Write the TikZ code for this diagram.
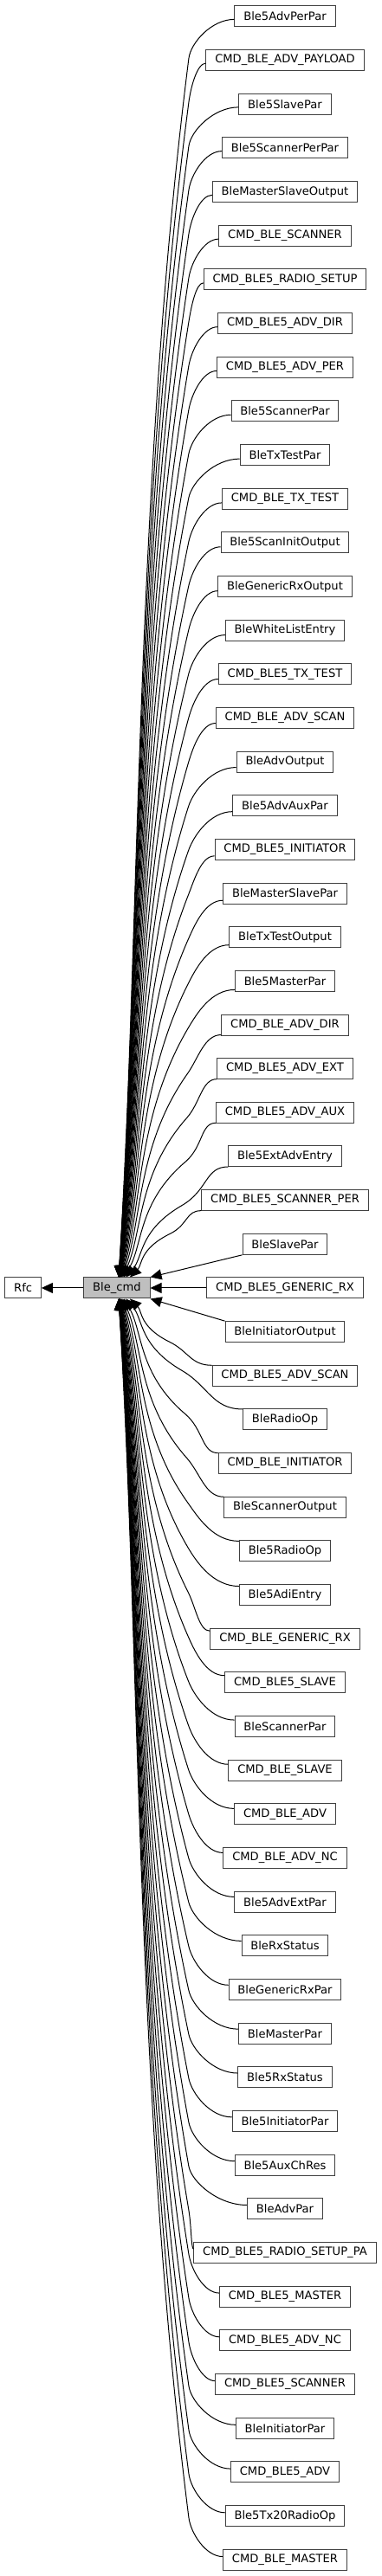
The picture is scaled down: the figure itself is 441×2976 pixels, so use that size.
\documentclass[tikz,border=0pt]{standalone}
\usepackage{fontspec}
\setmainfont{DejaVu Sans}
\usetikzlibrary{arrows.meta,calc}
\definecolor{boxc}{RGB}{64,64,64}
\definecolor{cmdfill}{RGB}{191,191,191}
\begin{document}
\begin{tikzpicture}[x=1pt,y=1pt,
  box/.style={draw=boxc, line width=1pt, minimum height=24pt, inner xsep=10.3pt, inner ysep=0pt,
    font=\fontsize{13.1}{15}\selectfont, fill=white, text=black},
  edge/.style={line width=1pt, draw=black, -{Triangle[length=13pt,width=12pt]}},
  edgeb/.style={line width=1pt, draw=black, {Triangle[length=13pt,width=12pt]}-}]
\useasboundingbox (0,0) rectangle (441,2976);
\node[box, fill=cmdfill] (cmd) at (135,1488) {Ble\_cmd};
\node[box] (rfc) at (26.65,1488) {Rfc};
\foreach \name [count=\i] in {Ble5AdvPerPar, CMD\_BLE\_ADV\_PAYLOAD, Ble5SlavePar, Ble5ScannerPerPar,
  BleMasterSlaveOutput, CMD\_BLE\_SCANNER, CMD\_BLE5\_RADIO\_SETUP, CMD\_BLE5\_ADV\_DIR,
  CMD\_BLE5\_ADV\_PER, Ble5ScannerPar, BleTxTestPar, CMD\_BLE\_TX\_TEST, Ble5ScanInitOutput,
  BleGenericRxOutput, BleWhiteListEntry, CMD\_BLE5\_TX\_TEST, CMD\_BLE\_ADV\_SCAN, BleAdvOutput,
  Ble5AdvAuxPar, CMD\_BLE5\_INITIATOR, BleMasterSlavePar, BleTxTestOutput, Ble5MasterPar,
  CMD\_BLE\_ADV\_DIR, CMD\_BLE5\_ADV\_EXT, CMD\_BLE5\_ADV\_AUX, Ble5ExtAdvEntry,
  CMD\_BLE5\_SCANNER\_PER, BleSlavePar, CMD\_BLE5\_GENERIC\_RX, BleInitiatorOutput,
  CMD\_BLE5\_ADV\_SCAN, BleRadioOp, CMD\_BLE\_INITIATOR, BleScannerOutput, Ble5RadioOp,
  Ble5AdiEntry, CMD\_BLE\_GENERIC\_RX, CMD\_BLE5\_SLAVE, BleScannerPar, CMD\_BLE\_SLAVE,
  CMD\_BLE\_ADV, CMD\_BLE\_ADV\_NC, Ble5AdvExtPar, BleRxStatus, BleGenericRxPar, BleMasterPar,
  Ble5RxStatus, Ble5InitiatorPar, Ble5AuxChRes, BleAdvPar, CMD\_BLE5\_RADIO\_SETUP\_PA,
  CMD\_BLE5\_MASTER, CMD\_BLE5\_ADV\_NC, CMD\_BLE5\_SCANNER, BleInitiatorPar, CMD\_BLE5\_ADV,
  Ble5Tx20RadioOp, CMD\_BLE\_MASTER} {
  \node[box] (n\i) at (329,{1488+(30-\i)*50.66}) {\name};
}
\draw[edge] (cmd.west) -- (rfc.east);
\foreach \i in {1,...,59} {
  \pgfmathtruncatemacro{\kk}{abs(30-\i)}
  \pgfmathtruncatemacro{\sg}{(\i<30) ? 1 : -1}
  \ifnum\kk=0
    \draw[edge] (n\i.west) -- (cmd.east);
  \else\ifnum\kk=1
    \ifnum\i<30
      \draw[edge] (n\i.south west) -- (cmd.north east);
    \else
      \draw[edge] (n\i.north west) -- (cmd.south east);
    \fi
  \else
    \path (n\i.west); \pgfgetlastxy{\sx}{\sy}
    \pgfmathsetmacro{\att}{min(12,1.5+60/\kk)}
    \pgfmathsetmacro{\uS}{\kk*50.66-\att}
    \pgfmathsetmacro{\uE}{12.5}
    \pgfmathsetmacro{\dT}{\uS-\uE}
    \pgfmathsetmacro{\ehh}{min(45,0.35*\dT)}
    \pgfmathsetmacro{\uB}{\uS-\ehh}
    \pgfmathsetmacro{\xb}{218-(360.6/\dT)*(360.6/\dT)}
    \pgfmathsetmacro{\xt}{136+28/\kk}
    \pgfmathsetmacro{\dd}{\uB-\uE}
    \pgfmathsetmacro{\esl}{min(2.5,2.2*(\xb-\xt)/\dd)}
    \pgfmathsetmacro{\err}{0.5*(\sx-\xb)}
    \pgfmathsetmacro{\emm}{0.4*\ehh}
    \pgfmathsetmacro{\Lone}{0.35*\dd}
    \pgfmathsetmacro{\Ltwo}{0.28*\dd}
    \ifnum\i<30
      \draw[edgeb] ([xshift={(\xt-135)*1pt}]cmd.north)
        .. controls ({\xt+0.5*\esl*\Ltwo},{1488+(\uE+\Ltwo)}) and ({\xb-\esl*\Lone},{1488+(\uB-\Lone)})
        .. (\xb,{1488+\uB})
        .. controls ({\xb+\esl*\emm},{1488+(\uB+\emm)}) and ({\sx-\err},{1488+\uS})
        .. ([yshift={-\att*1pt}]n\i.west);
    \else
      \draw[edgeb] ([xshift={(\xt-135)*1pt}]cmd.south)
        .. controls ({\xt+0.5*\esl*\Ltwo},{1488-(\uE+\Ltwo)}) and ({\xb-\esl*\Lone},{1488-(\uB-\Lone)})
        .. (\xb,{1488-\uB})
        .. controls ({\xb+\esl*\emm},{1488-(\uB+\emm)}) and ({\sx-\err},{1488-\uS})
        .. ([yshift={\att*1pt}]n\i.west);
    \fi
  \fi\fi
}
\end{tikzpicture}
\end{document}
